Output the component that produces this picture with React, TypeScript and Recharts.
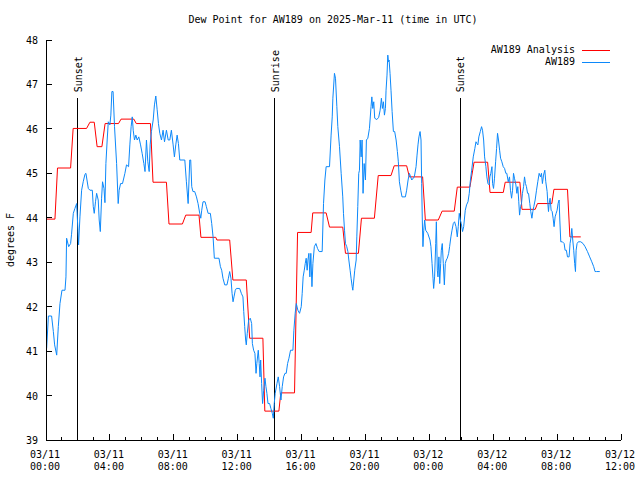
import { LineChart, Line, XAxis, YAxis, ReferenceLine } from 'recharts';

// hours since 03/11 00:00 UTC
const obsHours = [
  0.04, 0.15, 0.35, 0.46, 0.54, 0.67, 0.77, 0.875, 1.0, 1.19, 1.25, 1.29, 1.42, 1.54, 1.6, 1.71, 1.81, 1.92,
  2.0, 2.04, 2.125, 2.23, 2.33, 2.44, 2.5, 2.65, 2.75, 2.9, 2.96, 3.02, 3.1, 3.17, 3.27, 3.33, 3.4, 3.48,
  3.54, 3.63, 3.69, 3.75, 3.83, 3.9, 4.0, 4.06, 4.125, 4.2, 4.29, 4.42, 4.52, 4.58, 4.67, 4.79, 4.94, 5.04,
  5.17, 5.25, 5.33, 5.4, 5.46, 5.54, 5.625, 5.71, 5.81, 5.92, 6.02, 6.125, 6.2, 6.29, 6.375, 6.46, 6.52, 6.6,
  6.71, 6.79, 6.875, 6.96, 7.04, 7.125, 7.23, 7.33, 7.42, 7.54, 7.65, 7.75, 7.85, 7.96, 8.04, 8.125, 8.21,
  8.29, 8.375, 8.69, 8.79, 8.9, 9.0, 9.06, 9.125, 9.2, 9.31, 9.42, 9.52, 9.625, 9.69, 9.75, 9.83, 9.96,
  10.04, 10.15, 10.29, 10.375, 10.46, 10.54, 10.83, 10.92, 11.0, 11.08, 11.19, 11.33, 11.42, 11.5, 11.58,
  11.65, 11.71, 11.77, 11.85, 11.92, 12.125, 12.23, 12.33, 12.38, 12.44, 12.5, 12.54, 12.6, 12.69, 12.79,
  12.875, 12.92, 13.0, 13.08, 13.15, 13.2, 13.29, 13.35, 13.4, 13.44, 13.5, 13.56, 13.63, 13.71, 13.77,
  13.83, 13.9, 14.0, 14.08, 14.17, 14.23, 14.29, 14.35, 14.46, 14.54, 14.625, 14.71, 14.79, 14.875, 14.96,
  15.04, 15.125, 15.21, 15.31, 15.46, 15.52, 15.6, 15.67, 15.77, 15.875, 15.98, 16.04, 16.1, 16.17, 16.23,
  16.29, 16.35, 16.4, 16.46, 16.52, 16.58, 16.65, 16.71, 16.8, 16.9, 17.0, 17.1, 17.29, 17.375, 17.46,
  17.54, 17.75, 17.85, 17.92, 17.96, 18.06, 18.125, 18.21, 18.27, 18.375, 18.48, 18.58, 18.625, 18.69,
  18.75, 18.83, 18.9, 18.96, 19.04, 19.1, 19.17, 19.21, 19.27, 19.33, 19.42, 19.46, 19.52, 19.58, 19.625,
  19.67, 19.73, 19.79, 19.85, 19.92, 20.0, 20.06, 20.15, 20.25, 20.35, 20.4, 20.46, 20.52, 20.58, 20.71,
  20.83, 20.92, 21.0, 21.06, 21.125, 21.19, 21.25, 21.29, 21.35, 21.4, 21.44, 21.48, 21.54, 21.6, 21.67,
  21.75, 21.83, 21.92, 22.0, 22.06, 22.125, 22.21, 22.29, 22.5, 22.58, 22.67, 22.75, 22.83, 22.9, 23.06,
  23.17, 23.23, 23.29, 23.35, 23.42, 23.48, 23.52, 23.56, 23.6, 23.65, 23.71, 23.77, 23.9, 24.04, 24.1,
  24.17, 24.23, 24.27, 24.33, 24.4, 24.44, 24.5, 24.54, 24.6, 24.65, 24.71, 24.75, 24.81, 24.875, 24.94,
  25.0, 25.06, 25.125, 25.21, 25.27, 25.35, 25.42, 25.5, 25.58, 25.67, 25.75, 25.81, 25.875, 25.94, 26.0,
  26.08, 26.15, 26.25, 26.33, 26.42, 26.5, 26.56, 26.65, 26.75, 26.85, 26.92, 26.98, 27.04, 27.1, 27.19,
  27.27, 27.33, 27.4, 27.46, 27.54, 27.6, 27.67, 27.75, 27.79, 27.85, 27.92, 27.96, 28.02, 28.08, 28.15,
  28.21, 28.27, 28.33, 28.4, 28.46, 28.54, 28.625, 28.71, 28.79, 28.85, 28.94, 29.02, 29.08, 29.15, 29.21,
  29.27, 29.33, 29.42, 29.48, 29.54, 29.6, 29.65, 29.71, 29.77, 29.83, 29.9, 29.96, 30.02, 30.08, 30.15,
  30.21, 30.29, 30.35, 30.42, 30.48, 30.54, 30.625, 30.71, 30.79, 30.875, 30.96, 31.02, 31.08, 31.15, 31.23,
  31.29, 31.375, 31.42, 31.46, 31.5, 31.56, 31.625, 31.69, 31.75, 31.81, 31.875, 31.94, 32.0, 32.06,
  32.125, 32.17, 32.23, 32.33, 32.44, 32.5, 32.58, 32.65, 32.75, 32.81, 32.875, 32.92, 32.98, 33.04, 33.1,
  33.15, 33.19, 33.25, 33.33, 33.48, 33.625, 33.75, 33.9, 34.04, 34.17, 34.29, 34.375, 34.46, 34.67,
];

const obsValues = [
  41.06, 41.79, 41.79, 41.44, 41.14, 40.91, 41.55, 42.07, 42.37, 42.37, 42.67, 43.54, 43.35, 43.42, 43.63, 44.1, 44.21, 44.32,
  43.72, 43.39, 44.02, 44.62, 44.81, 44.98, 45.0, 44.66, 44.62, 44.62, 44.25, 44.1, 44.36, 44.55, 44.4, 43.95, 43.69, 44.44,
  44.81, 44.66, 44.34, 45.22, 45.75, 46.16, 46.09, 46.31, 46.84, 46.84, 46.05, 45.22, 44.32, 44.62, 44.77, 44.77, 45.0, 45.19,
  45.15, 45.64, 46.05, 46.27, 45.97, 45.75, 45.86, 45.75, 45.82, 45.64, 45.45, 45.22, 45.04, 45.75, 45.26, 45.04, 45.64, 45.94,
  46.2, 46.54, 46.74, 46.43, 46.12, 45.9, 45.75, 45.97, 45.71, 45.97, 45.75, 45.75, 45.97, 45.64, 45.37, 45.64, 45.86,
  45.67, 45.3, 45.3, 44.81, 44.32, 45.3, 45.3, 44.7, 44.59, 44.59, 44.47, 44.32, 44.1, 43.99, 44.17, 44.36, 44.36,
  44.25, 44.1, 44.1, 43.87, 43.57, 43.09, 43.09, 42.9, 42.82, 42.64, 42.49, 42.49, 42.64, 42.79, 42.64,
  42.3, 42.11, 42.22, 42.37, 42.41, 42.41, 42.3, 42.22, 41.89, 41.55, 41.25, 41.14, 41.4, 41.7, 41.74,
  41.62, 41.17, 41.02, 40.95, 40.5, 40.72, 41.02, 40.72, 40.42, 40.8, 40.27, 39.82, 40.12, 40.39, 40.2,
  40.05, 39.82, 39.82, 39.71, 39.6, 39.49, 39.82, 40.05, 40.27, 40.42, 40.2, 39.9, 40.2, 40.42, 40.5,
  40.5, 40.72, 40.84, 41.02, 41.02, 41.47, 41.85, 42.07, 41.92, 41.85, 42.0, 42.3, 42.67, 42.82, 42.97,
  43.09, 42.82, 43.05, 43.2, 42.67, 43.2, 42.45, 42.97, 43.35, 43.42, 43.31, 43.24, 43.24, 44.32, 44.85,
  45.15, 45.15, 45.86, 46.27, 46.69, 47.25, 47.14, 46.5, 46.05, 45.6, 45.0, 44.47, 44.1, 43.72,
  43.42, 43.35, 43.24, 43.05, 42.82, 42.64, 42.45, 42.37, 42.6, 42.82, 43.05, 43.57, 44.25, 45.0, 45.07,
  45.75, 45.37, 45.75, 44.55, 45.22, 44.85, 45.75, 45.79, 46.01, 46.5, 46.72, 46.46, 46.61, 46.24, 46.21,
  46.26, 46.42, 46.69, 46.46, 46.61, 46.31, 46.46, 46.87, 47.21, 47.66, 47.51, 47.55, 47.25, 46.87, 46.39,
  45.94, 45.94, 45.75, 45.49, 45.26, 44.81, 44.62, 44.47, 44.47, 44.62, 44.85, 45.0, 44.92, 44.85, 44.92,
  45.15, 45.41, 45.64, 45.82, 45.94, 45.75, 44.77, 43.95, 43.35, 43.72, 43.95, 43.72, 43.65, 43.5, 43.35,
  42.97, 42.64, 42.41, 42.67, 43.42, 43.91, 42.82, 42.67, 43.12, 42.52, 42.97, 43.27, 43.42, 42.97, 42.49,
  42.97, 43.05, 43.09, 43.2, 43.35, 43.57, 43.72, 43.87, 43.91, 43.8, 43.57, 43.8, 44.1, 43.95, 43.87,
  43.69, 43.8, 44.17, 44.29, 44.36, 44.55, 44.81, 45.07, 45.37, 45.56, 45.71, 45.67, 45.64, 45.82, 45.94,
  46.05, 45.97, 45.75, 45.37, 45.15, 44.92, 44.77, 44.74, 44.92, 45.0, 45.15, 44.77, 44.66, 44.89, 45.26,
  45.56, 45.9, 45.75, 45.52, 45.34, 45.26, 45.15, 45.11, 45.0, 45.0, 44.81, 44.92, 44.62, 44.44, 44.62,
  45.0, 44.89, 44.74, 44.55, 44.7, 44.36, 44.06, 44.25, 44.32, 44.55, 44.7, 44.92, 44.77, 44.7, 44.55,
  44.55, 44.32, 44.14, 43.99, 44.14, 44.25, 44.4, 44.62, 44.81, 45.0, 44.92, 45.0, 44.77, 44.96, 45.07,
  44.81, 44.59, 44.32, 44.14, 44.32, 44.44, 44.17, 44.14, 43.99, 43.8, 44.02, 44.1, 44.17, 44.32,
  44.4, 43.95, 43.46, 43.46, 43.42, 43.27, 43.27, 43.12, 43.12, 43.42, 43.57, 43.76, 43.5, 43.27, 42.97,
  42.79, 43.27, 43.42, 43.46, 43.46, 43.42, 43.35, 43.24, 43.12, 43.01, 42.9, 42.79, 42.79, 42.79,
];

const analysisHours = [
  0, 0.56, 0.72, 1.54, 1.7, 2.54, 2.75, 3.02, 3.2, 3.5, 3.7, 4.54, 4.7, 5.5, 5.65, 6.54, 6.7, 7.54, 7.7,
  8.54, 8.75, 9.58, 9.7, 10.63, 10.7, 11.5, 11.7, 12.54, 12.75, 13.58, 13.7, 14.58, 14.7, 15.56, 15.75,
  16.6, 16.7, 17.54, 17.75, 18.58, 18.75, 19.56, 19.75, 20.56, 20.8, 21.6, 21.8, 22.58, 22.75, 23.58,
  23.75, 24.56, 24.8, 25.56, 25.75, 26.54, 26.8, 27.65, 27.8, 28.63, 28.75, 29.67, 29.8, 30.63, 30.77,
  31.67, 31.8, 32.65, 32.8, 33.48,
];

const analysisValues = [
  43.97, 43.97, 45.12, 45.12, 46.01, 46.01, 46.15, 46.15, 45.6, 45.6, 46.12, 46.12, 46.22, 46.22, 46.12,
  46.12, 44.8, 44.8, 43.86, 43.86, 44.06, 44.06, 43.56, 43.56, 43.5, 43.5, 42.6, 42.6, 41.29, 41.29,
  39.65, 39.65, 40.06, 40.06, 43.67, 43.67, 44.11, 44.11, 43.79, 43.79, 43.2, 43.2, 43.99, 43.99, 44.95,
  44.95, 45.17, 45.17, 44.92, 44.92, 43.95, 43.95, 44.15, 44.15, 44.69, 44.69, 45.25, 45.25, 44.57,
  44.57, 44.8, 44.8, 44.19, 44.19, 44.32, 44.32, 44.64, 44.64, 43.57, 43.57,
];

const sunHours = [1.96, 14.29, 25.92];
const sunLabels = ['Sunset', 'Sunrise', 'Sunset'];

const hourTicks = [
  0, 1, 2, 3, 4, 5, 6, 7, 8, 9, 10, 11, 12, 13, 14, 15, 16, 17, 18, 19, 20, 21, 22, 23, 24, 25, 26, 27,
  28, 29, 30, 31, 32, 33, 34, 35, 36,
];
const majorHours = [0, 4, 8, 12, 16, 20, 24, 28, 32, 36];
const majorDates = ['03/11', '03/11', '03/11', '03/11', '03/11', '03/11', '03/12', '03/12', '03/12', '03/12'];
const majorTimes = ['00:00', '04:00', '08:00', '12:00', '16:00', '20:00', '00:00', '04:00', '08:00', '12:00'];
const yTicks = [39, 40, 41, 42, 43, 44, 45, 46, 47, 48];

const FONT = '"DejaVu Sans Mono", monospace';
const RED = '#ff0000';
const BLUE = '#0c88fa';

const obsData = obsHours.map((h, i) => ({ h, v: obsValues[i] }));
const analysisData = analysisHours.map((h, i) => ({ h, v: analysisValues[i] }));

const axisLine = { stroke: '#000', shapeRendering: 'crispEdges' };

function BottomTick(props: any) {
  const { x, y, payload } = props;
  const i = majorHours.indexOf(payload.value);
  const major = i >= 0;
  return (
    <g>
      <line x1={x} x2={x} y1={y} y2={y - (major ? 6 : 3)} stroke="#000" shapeRendering="crispEdges" />
      {major && (
        <text x={x - 1} y={y + 18} textAnchor="middle" fontFamily={FONT} fontSize={10} fill="#000">
          {majorDates[i]}
        </text>
      )}
      {major && (
        <text x={x - 1} y={y + 30} textAnchor="middle" fontFamily={FONT} fontSize={10} fill="#000">
          {majorTimes[i]}
        </text>
      )}
    </g>
  );
}

function TopTick(props: any) {
  const { x, y, payload } = props;
  const major = majorHours.includes(payload.value);
  return <line x1={x} x2={x} y1={y} y2={y + (major ? 6 : 3)} stroke="#000" shapeRendering="crispEdges" />;
}

function LeftTick(props: any) {
  const { x, y, payload } = props;
  return (
    <g>
      <line x1={x} x2={x + 6} y1={y} y2={y} stroke="#000" shapeRendering="crispEdges" />
      <text x={x - 8} y={y + 4} textAnchor="end" fontFamily={FONT} fontSize={10} fill="#000">
        {payload.value}
      </text>
    </g>
  );
}

function RightTick(props: any) {
  const { x, y } = props;
  return <line x1={x} x2={x - 6} y1={y} y2={y} stroke="#000" shapeRendering="crispEdges" />;
}

function sunLabel(text: string) {
  return (props: any) => {
    const vb = props.viewBox || {};
    const lx = vb.x + 1;
    const ly = vb.y - 6;
    return (
      <text
        x={lx}
        y={ly}
        transform={`rotate(-90 ${lx} ${ly})`}
        dominantBaseline="central"
        fontFamily={FONT}
        fontSize={10}
        fill="#000"
      >
        {text}
      </text>
    );
  };
}

const textStyle = { position: 'absolute' as const, fontFamily: FONT, fontSize: 10, color: '#000', whiteSpace: 'nowrap' as const, lineHeight: '12px' };

export default function App() {
  return (
    <div style={{ position: 'absolute', left: 0, top: 0, width: 640, height: 480, background: '#fff' }}>
      <LineChart width={640} height={480} margin={{ top: 40, right: 19, left: 0, bottom: 0 }}>
        <XAxis
          xAxisId="bottom"
          type="number"
          dataKey="h"
          domain={[0, 36]}
          ticks={hourTicks}
          interval={0}
          height={40}
          tickSize={0}
          tickMargin={0}
          tickLine={false}
          axisLine={axisLine}
          tick={(p: any) => <BottomTick {...p} />}
        />
        <XAxis
          xAxisId="top"
          orientation="top"
          type="number"
          dataKey="h"
          domain={[0, 36]}
          ticks={hourTicks}
          interval={0}
          height={0}
          tickSize={0}
          tickMargin={0}
          tickLine={false}
          axisLine={axisLine}
          tick={(p: any) => <TopTick {...p} />}
        />
        <YAxis
          yAxisId="left"
          type="number"
          domain={[39, 48]}
          ticks={yTicks}
          interval={0}
          width={46}
          tickSize={0}
          tickMargin={0}
          tickLine={false}
          axisLine={axisLine}
          tick={(p: any) => <LeftTick {...p} />}
        />
        <YAxis
          yAxisId="right"
          orientation="right"
          type="number"
          domain={[39, 48]}
          ticks={yTicks}
          interval={0}
          width={0}
          tickSize={0}
          tickMargin={0}
          tickLine={false}
          axisLine={axisLine}
          tick={(p: any) => <RightTick {...p} />}
        />
        {sunHours.map((h, i) => (
          <ReferenceLine
            key={`sun-${i}`}
            xAxisId="bottom"
            yAxisId="left"
            segment={[{ x: h, y: 39 }, { x: h, y: 46.69 }]}
            stroke="#000"
            shapeRendering="crispEdges"
            label={sunLabel(sunLabels[i])}
          />
        ))}
        <Line
          xAxisId="bottom"
          yAxisId="left"
          data={analysisData}
          dataKey="v"
          type="linear"
          stroke={RED}
          strokeWidth={1}
          dot={false}
          isAnimationActive={false}
        />
        <Line
          xAxisId="bottom"
          yAxisId="left"
          data={obsData}
          dataKey="v"
          type="linear"
          stroke={BLUE}
          strokeWidth={1}
          dot={false}
          isAnimationActive={false}
        />
      </LineChart>

      <div style={{ ...textStyle, left: 0, width: 666, top: 14, textAlign: 'center' }}>
        Dew Point for AW189 on 2025-Mar-11 (time in UTC)
      </div>
      <div
        style={{
          ...textStyle,
          left: 11,
          top: 240,
          transform: 'translate(-50%, -50%) rotate(-90deg)',
        }}
      >
        degrees F
      </div>
      <div style={{ ...textStyle, right: 640 - 575, top: 44, textAlign: 'right' }}>AW189 Analysis</div>
      <div style={{ position: 'absolute', left: 582, top: 50, width: 28, height: 1, background: RED }} />
      <div style={{ ...textStyle, right: 640 - 575, top: 56, textAlign: 'right' }}>AW189</div>
      <div style={{ position: 'absolute', left: 582, top: 62, width: 28, height: 1, background: BLUE }} />
    </div>
  );
}
